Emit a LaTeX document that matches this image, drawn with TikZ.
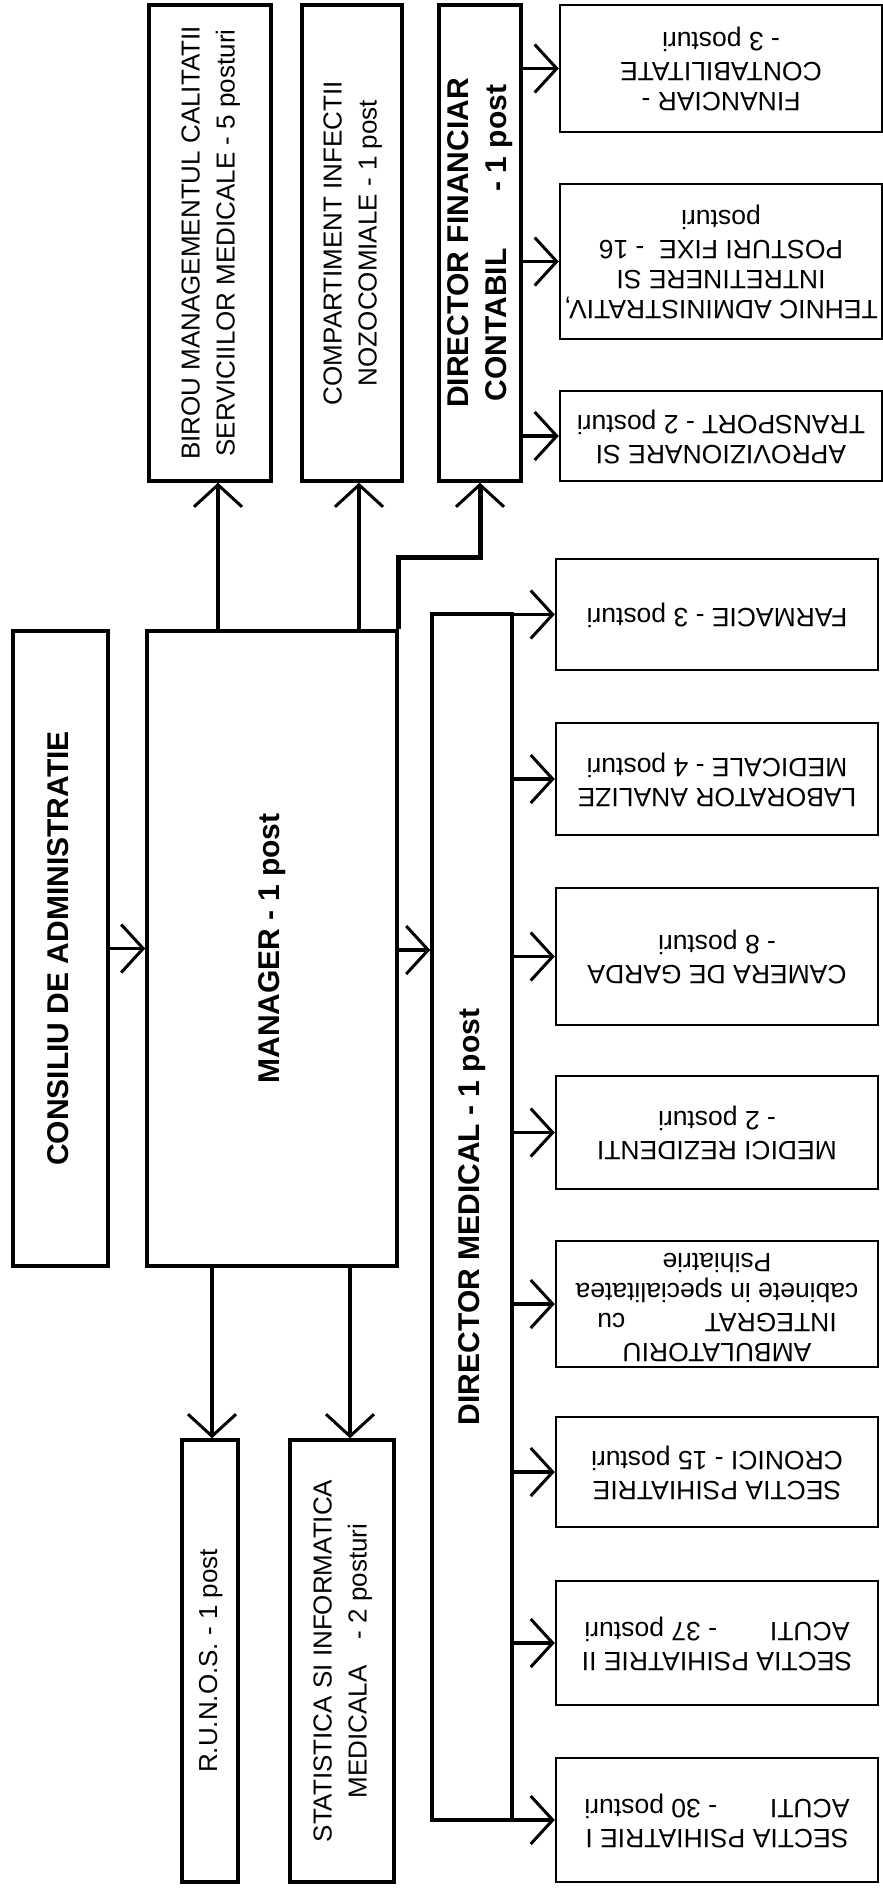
\documentclass[tikz,border=0pt]{standalone}
\usepackage{fontspec}
\setmainfont{Liberation Sans}
\usetikzlibrary{arrows.meta}
\newcommand{\uptext}[1]{\rotatebox{90}{\begin{tabular}{@{}c@{}}#1\end{tabular}}}
\newcommand{\flipped}[1]{\rotatebox{180}{\begin{tabular}{@{}c@{}}#1\end{tabular}}}
\tikzset{
  unit/.style={draw, line width=3.5pt, inner sep=0pt, font=\fontsize{26}{35}\selectfont},
  head/.style={unit, font=\fontsize{30}{38}\selectfont\bfseries},
  leaf/.style={draw, line width=2.5pt, inner sep=0pt, minimum width=322pt,
    font=\fontsize{26.5}{30}\selectfont},
}

\begin{document}
\begin{tikzpicture}[x=1pt, y=-1pt,
  >={Straight Barb[length=22pt,width=48pt,line width=3pt]},
  link/.style={->, line width=3.5pt}]
  \useasboundingbox (0,0) rectangle (883,1888);

  %% ── Top level ───────────────────────────────────────────────────
  \node[head, minimum width=95pt, minimum height=635pt] (cons) at (60.5,948.5)
    {\uptext{CONSILIU DE ADMINISTRATIE}};
  \node[head, minimum width=250pt, minimum height=635pt] (man) at (272,948.5)
    {\uptext{MANAGER - 1 post}};

  %% ── Units above the manager ─────────────────────────────────────
  \node[unit, minimum width=122pt, minimum height=476pt] (birou) at (210,243)
    {\uptext{BIROU MANAGEMENTUL CALITATII\\SERVICIILOR MEDICALE - 5 posturi}};
  \node[unit, minimum width=100pt, minimum height=476pt] (comp) at (352,243)
    {\uptext{COMPARTIMENT INFECTII\\NOZOCOMIALE - 1 post}};
  \node[head, minimum width=82pt, minimum height=476pt] (dirfin) at (480,243)
    {\uptext{DIRECTOR FINANCIAR\\CONTABIL\hspace{1.9em}- 1 post}};

  %% ── Units below the manager ─────────────────────────────────────
  \node[unit, minimum width=56pt, minimum height=442pt] (runos) at (210,1661)
    {\uptext{R.U.N.O.S. - 1 post}};
  \node[unit, minimum width=104pt, minimum height=442pt] (stat) at (342,1661)
    {\uptext{STATISTICA SI INFORMATICA\\MEDICALA\hspace{1em}- 2 posturi}};

  %% ── Director medical ────────────────────────────────────────────
  \node[head, minimum width=80pt, minimum height=1206pt] (dirmed) at (472,1217)
    {\uptext{DIRECTOR MEDICAL - 1 post}};

  %% ── Financial departments ───────────────────────────────────────
  \node[leaf, minimum height=127pt] (fin) at (721,68.5)
    {\flipped{FINANCIAR -\\CONTABILITATE\\- 3 posturi}};
  \node[leaf, minimum height=155pt] (teh) at (721,261.5)
    {\flipped{TEHNIC ADMINISTRATIV,\\INTRETINERE SI\\POSTURI FIXE\ \ - 16\\posturi}};
  \node[leaf, minimum height=90pt] (apr) at (721,436)
    {\flipped{APROVIZIONARE SI\\TRANSPORT - 2 posturi}};

  %% ── Medical departments ─────────────────────────────────────────
  \node[leaf, minimum height=111pt] (farm) at (717,614.5)
    {\flipped{FARMACIE - 3 posturi}};
  \node[leaf, minimum height=112pt] (lab) at (717,779)
    {\flipped{LABORATOR ANALIZE\\MEDICALE - 4 posturi}};
  \node[leaf, minimum height=137pt] (cam) at (717,956.5)
    {\flipped{CAMERA DE GARDA\\- 8 posturi}};
  \node[leaf, minimum height=113pt] (rez) at (717,1132.5)
    {\flipped{MEDICI REZIDENTI\\- 2 posturi}};
  \node[leaf, minimum height=126pt] (amb) at (717,1304)
    {\flipped{AMBULATORIU\\INTEGRAT\hspace{3em}cu\\cabinete in specialitatea\\Psihiatrie}};
  \node[leaf, minimum height=110pt] (cron) at (717,1472)
    {\flipped{SECTIA PSIHIATRIE\\CRONICI - 15 posturi}};
  \node[leaf, minimum height=124pt] (acut2) at (717,1643)
    {\flipped{SECTIA PSIHIATRIE II\\ACUTI\hspace{2em}- 37 posturi}};
  \node[leaf, minimum height=124pt] (acut1) at (717,1820)
    {\flipped{SECTIA PSIHIATRIE I\\ACUTI\hspace{2em}- 30 posturi}};

  %% ── Connectors ──────────────────────────────────────────────────
  \draw[link] (cons) -- (man);
  \draw[link] (man.east |- 0,950) -- (dirmed.west |- 0,950);
  \draw[link] (man.north -| 218,0) -- (birou.south -| 218,0);
  \draw[link] (man.north -| 359,0) -- (comp.south -| 359,0);
  \draw[link, line width=5pt] (man.north east) -- (man.north east |- 0,557)
    -- (dirfin.south |- 0,557) -- (dirfin.south);
  \draw[link] (man.south -| 212,0) -- (runos.north -| 212,0);
  \draw[link] (man.south -| 350,0) -- (stat.north -| 350,0);

  \foreach \n in {fin,teh,apr}
    \draw[link] (dirfin.east |- \n.west) -- (\n.west);
  \foreach \n in {farm,lab,cam,rez,amb,cron,acut2,acut1}
    \draw[link] (dirmed.east |- \n.west) -- (\n.west);

\end{tikzpicture}
\end{document}
